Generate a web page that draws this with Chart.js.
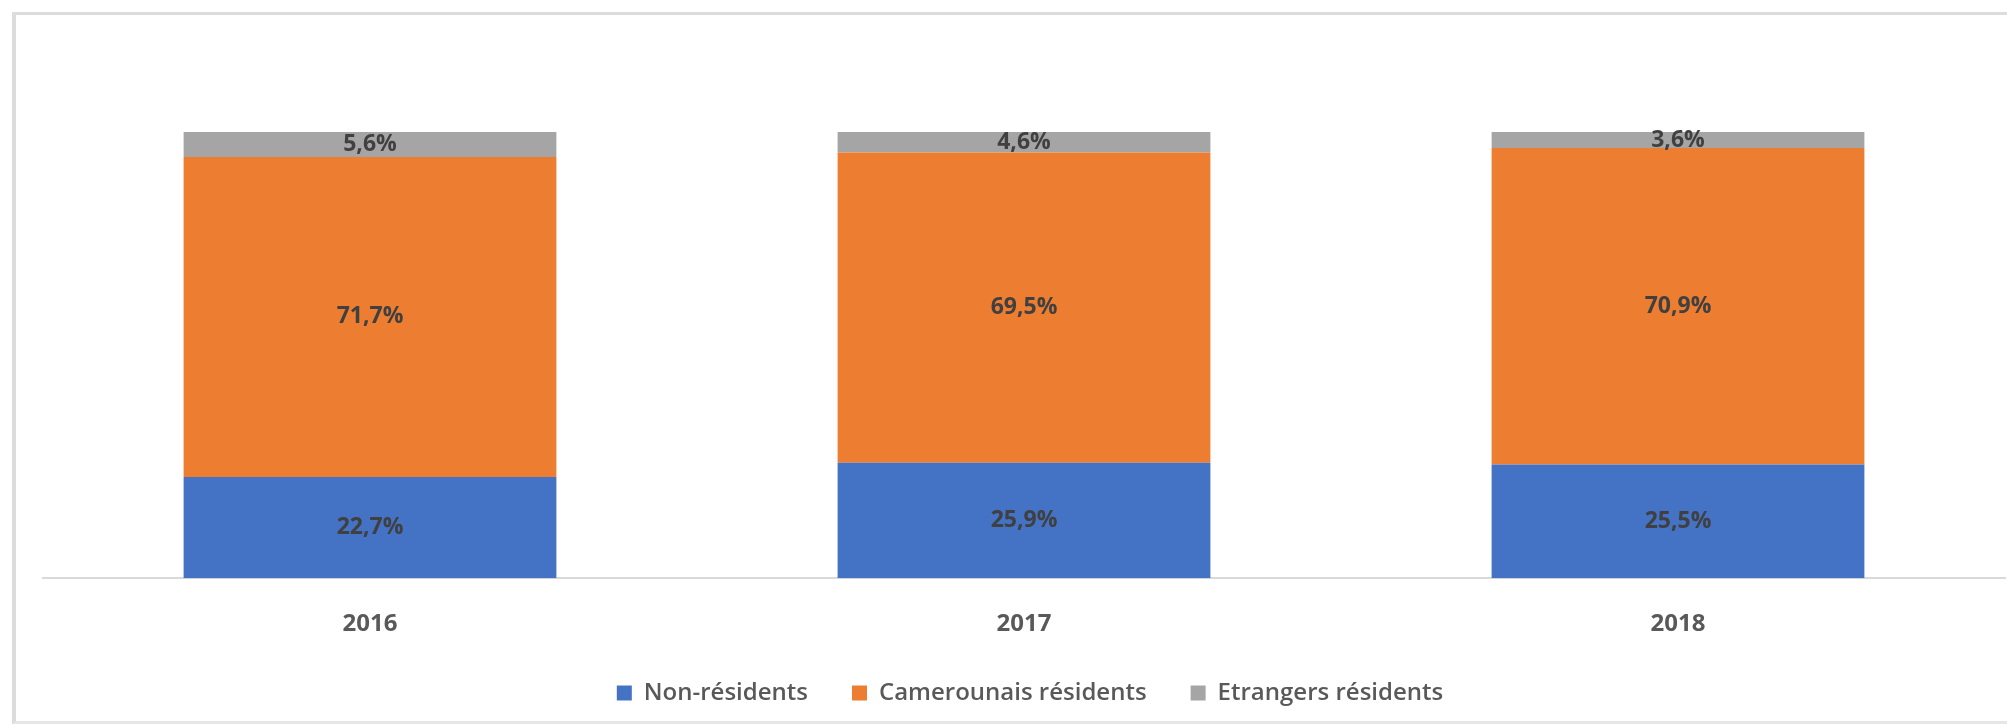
<!DOCTYPE html>
<html>
<head>
<meta charset="utf-8">
<script src="https://cdn.jsdelivr.net/npm/chart.js@4.4.0/dist/chart.umd.min.js"></script>
<style>
  html, body { margin: 0; padding: 0; background: #fff; overflow: hidden; }
  .frame {
    position: absolute; left: 12px; top: 12px; width: 2100px; height: 706px;
    border-left: 4px solid #dcdcdc; border-top: 3px solid #dcdcdc; border-bottom: 3px solid #e6e6e6;
  }
  .wrap { position: absolute; left: 0; top: 0; width: 2007px; height: 724px; }
</style>
</head>
<body>
<div class="frame"></div>
<div class="wrap"><canvas id="chart"></canvas></div>
<script>
let years = ['2016', '2017', '2018'];
let nonResidents = [22.7, 25.9, 25.5];
let camerounaisResidents = [71.7, 69.5, 70.9];
let etrangersResidents = [5.6, 4.6, 3.6];

// labels in the middle of each bar piece
let barLabels = {
    id: 'barLabels',
    afterDatasetsDraw(chart) {
        let ctx = chart.ctx;
        ctx.save();
        ctx.font = 'bold 23px "Open Sans"';
        ctx.fillStyle = '#404040';
        ctx.textAlign = 'center';
        ctx.textBaseline = 'middle';
        chart.data.datasets.forEach(function (ds, i) {
            chart.getDatasetMeta(i).data.forEach(function (bar, j) {
                let mid = (bar.y + bar.base) / 2;
                ctx.fillText(ds.data[j].toFixed(1).replace('.', ',') + '%', bar.x, mid);
            });
        });
        ctx.restore();
    }
};

// pull the legend a bit up, closer to the year labels
let legendUp = {
    id: 'legendUp',
    afterLayout(chart) {
        if (chart.legend) {
            chart.legend.top -= 26;
            chart.legend.bottom -= 26;
            chart.legend.left += 6;
            chart.legend.right += 6;
        }
    }
};

const ctx = document.getElementById('chart').getContext('2d');
const chart = new Chart(ctx, {
    type: 'bar',
    data: {
        labels: years,
        datasets: [{
            label: 'Non-résidents',
            data: nonResidents,
            backgroundColor: '#4472c4'
        }, {
            label: 'Camerounais résidents',
            data: camerounaisResidents,
            backgroundColor: '#ed7d31'
        }, {
            label: 'Etrangers résidents',
            data: etrangersResidents,
            backgroundColor: '#a5a5a5'
        }]
    },
    options: {
        responsive: true,
        maintainAspectRatio: false,
        animation: false,
        categoryPercentage: 1,
        barPercentage: 0.57,
        layout: {
            padding: { top: 132, left: 43, right: 2, bottom: -17 }
        },
        plugins: {
            tooltip: { enabled: false },
            legend: {
                position: 'bottom',
                labels: {
                    boxWidth: 15,
                    boxHeight: 15,
                    padding: 44,
                    color: '#595959',
                    font: { family: '"Open Sans"', size: 24, weight: '600' }
                }
            }
        },
        scales: {
            x: {
                stacked: true,
                grid: { display: false },
                border: { color: '#d9d9d9', width: 2 },
                ticks: {
                    padding: 24,
                    color: '#595959',
                    font: { family: '"Open Sans"', size: 24, weight: 'bold' }
                }
            },
            y: {
                stacked: true,
                display: false,
                min: 0,
                max: 100
            }
        }
    },
    plugins: [barLabels, legendUp]
});
</script>
</body>
</html>
